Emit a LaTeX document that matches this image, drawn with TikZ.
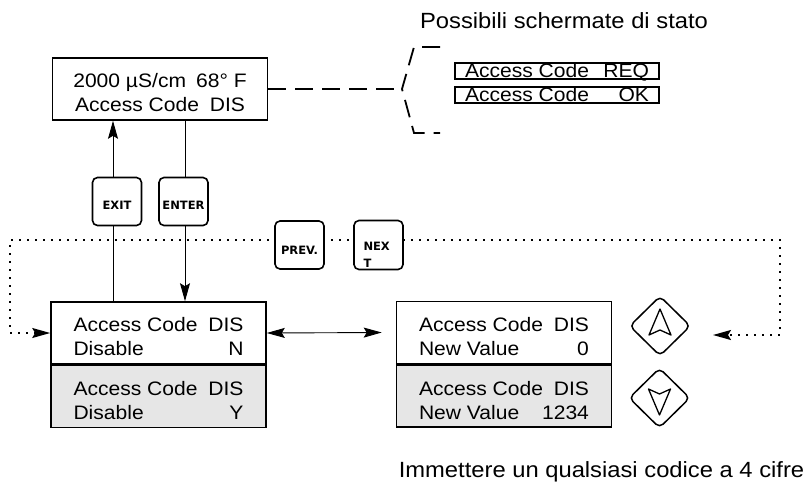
\documentclass[tikz,border=0pt]{standalone}
\usepackage{fontspec}
\setmainfont[FakeStretch=1.08]{Liberation Sans}
\newfontfamily\keyfont{DejaVu Sans}
\usetikzlibrary{positioning,shapes.geometric,arrows.meta}
\definecolor{lcdgray}{RGB}{230,230,230}
\newcommand{\lcdrow}[3][170pt]{\makebox[#1]{#2\hfill#3}}
\newcommand{\lcdtext}[4]{\rule{0pt}{22pt}\lcdrow{#1}{#2}\\\lcdrow{#3}{#4}}
\tikzset{
  lcd/.style={draw, line width=1.6pt, minimum width=215pt, minimum height=62pt, inner sep=0pt, align=center, font=\fontsize{19.5}{24}\selectfont},
  lcdshade/.style={lcd, fill=lcdgray},
  statusbox/.style={draw, line width=1.6pt, minimum width=204pt, inner xsep=0pt, inner ysep=0.5pt, text height=14pt, text depth=1.5pt, font=\fontsize{19.5}{24}\selectfont},
  keybox/.style={draw, line width=1.6pt, rounded corners=5pt, fill=white, minimum width=49pt, minimum height=48pt, inner sep=2pt, font=\keyfont\bfseries\fontsize{11.5}{17}\selectfont},
  keylow/.style={text height=16pt, text depth=0pt},
  arrowkey/.style={draw, diamond, line width=1.5pt, rounded corners=5pt, minimum width=61pt, minimum height=60pt, inner sep=0pt},
  caption/.style={font=\fontsize{22}{26}\selectfont, anchor=base},
  conn/.style={line width=0.9pt},
  dotline/.style={line width=1.6pt, dash pattern=on 1.6pt off 6.4pt},
  dashline/.style={line width=1.8pt, dash pattern=on 18pt off 9pt}
}
\begin{document}
\begin{tikzpicture}[x=1pt,y=-1pt,>={Stealth[length=18pt,width=10pt,inset=3pt]}]
\useasboundingbox (0,0) rectangle (812,483);
\node[caption] (titolo) at (564,28) {Possibili schermate di stato};
\node[lcd] (home) at (160,89) {\lcdtext{2000 µS/cm\hspace{10pt}68° F}{}{Access Code}{DIS}};
\node[statusbox] (req) at (557,71) {\lcdrow[184pt]{Access Code}{REQ}};
\node[statusbox] (ok) at (557,95) {\lcdrow[184pt]{Access Code}{OK}};
\node[lcd] (disable) at (158.5,333) {\lcdtext{Access Code}{DIS}{Disable}{N}};
\node[lcdshade, below=0pt of disable] (disabley) {\lcdtext{Access Code}{DIS}{Disable}{Y}};
\node[lcd] (newval) at (504,332.5) {\lcdtext{Access Code}{DIS}{New Value}{0}};
\node[lcdshade, below=0pt of newval] (newvalset) {\lcdtext{Access Code}{DIS}{New Value}{1234}};
\node[arrowkey] (up) at (660,326) {};
\node[arrowkey] (down) at (659.5,398) {};
\node[caption] (hint) at (601.5,477) {Immettere un qualsiasi codice a 4 cifre};

\coordinate (exitx) at (113,0);
\coordinate (enterx) at (185,0);
\coordinate (brace) at (402,89);
\coordinate (bracetop) at (440,47);
\coordinate (bracebot) at (440,133);
\coordinate (loopl) at (10,240);
\coordinate (loopr) at (780,240);
\coordinate (loopend) at (713,335);

\draw[conn,->] (disable.north -| exitx) -- (home.south -| exitx);
\draw[conn,->] (home.south -| enterx) -- (disable.north -| enterx);
\draw[conn,<->] (disable.east) -- ([xshift=-14pt]newval.west);
\draw[dashline] (home.east) -- (brace);
\draw[dashline] (bracetop) -- (414,47) -- (brace) -- (414,133) -- (bracebot);
\draw[dotline,<->] (disable.west) -| (loopl) -- (loopr) |- (loopend);

\node[keybox, keylow] (exit) at (117,201.5) {EXIT};
\node[keybox, keylow] (enter) at (183.5,201.5) {ENTER};
\node[keybox, keylow, text height=19pt] (prev) at (299.5,245) {PREV.};
\node[keybox, text width=30pt, align=left] (next) at (378.5,245) {\rule{0pt}{28pt}NEX\\T};

\draw[line width=1.3pt, line join=round] ([yshift=17pt]up.center) -- ++(-11,26) -- ++(11,-5) -- ++(11,5) -- cycle;
\draw[line width=1.3pt, line join=round] ([yshift=-17pt]down.center) -- ++(-11,-26) -- ++(11,5) -- ++(11,-5) -- cycle;
\end{tikzpicture}
\end{document}
